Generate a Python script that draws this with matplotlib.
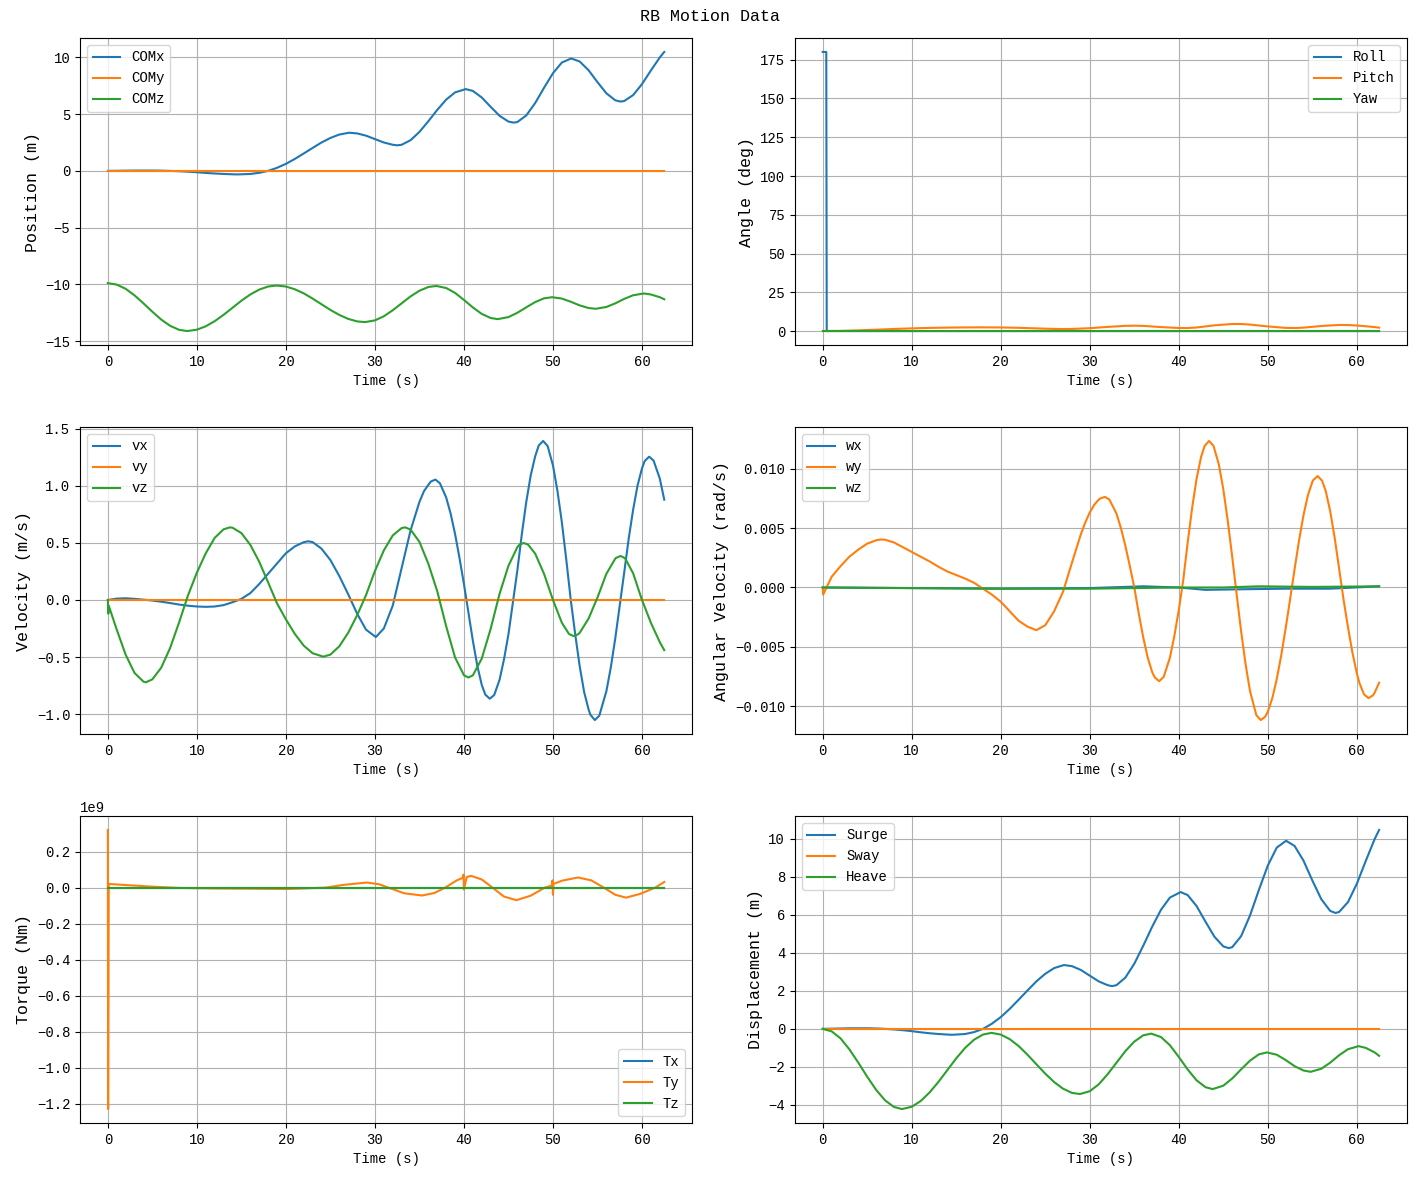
import numpy as np
import matplotlib
matplotlib.use("Agg")
import matplotlib.pyplot as plt

plt.rcParams["font.family"] = ["Liberation Mono", "DejaVu Sans Mono"]
plt.rcParams["font.size"] = 10

# ---- centre of mass position (m) ----
com_x_t = [0, 1, 2, 3, 4, 5, 6, 7, 8, 9, 10, 11, 12, 13, 14, 14.5, 15, 16, 17, 18, 19, 20,
           21, 22, 23, 24, 25, 26, 27.1, 28, 29, 30, 31, 32, 32.5, 33, 34, 35, 36, 37, 38,
           39, 40.2, 41, 42, 43, 44, 45, 45.6, 46, 47, 48, 49, 50, 51, 52.05, 53, 54, 55,
           56, 57, 57.6, 58, 59, 60, 61, 62, 62.5]
com_x = [0.0, 0.01, 0.02, 0.03, 0.03, 0.03, 0.02, 0.0, -0.03, -0.07, -0.12, -0.18, -0.23,
         -0.27, -0.30, -0.31, -0.30, -0.27, -0.17, 0.0, 0.27, 0.62, 1.05, 1.53, 2.02, 2.5,
         2.9, 3.2, 3.36, 3.3, 3.1, 2.8, 2.5, 2.3, 2.25, 2.30, 2.70, 3.43, 4.37, 5.37, 6.27,
         6.91, 7.2, 7.04, 6.46, 5.64, 4.85, 4.34, 4.25, 4.30, 4.88, 5.97, 7.32, 8.60, 9.54,
         9.9, 9.63, 8.86, 7.81, 6.83, 6.21, 6.1, 6.15, 6.67, 7.64, 8.84, 9.99, 10.47]
com_y_t = [0, 62.5]
com_y = [0.0, 0.0]
com_z_t = [0, 1, 2, 3, 4, 5, 6, 7, 8, 8.9, 10, 11, 12, 13, 14, 15, 16, 17, 18, 18.95, 20,
           21, 22, 23, 24, 25, 26, 27, 28, 28.9, 30, 31, 32, 33, 34, 35, 36, 36.9, 38, 39,
           40, 41, 42, 43, 43.8, 45, 46, 47, 48, 49, 49.9, 51, 52, 53, 54, 54.8, 56, 57,
           58, 59, 60.2, 61, 62, 62.5]
com_z = [-9.88, -10.01, -10.38, -10.96, -11.66, -12.40, -13.09, -13.64, -13.99, -14.10,
         -13.98, -13.68, -13.23, -12.67, -12.05, -11.43, -10.88, -10.45, -10.18, -10.09,
         -10.18, -10.42, -10.78, -11.24, -11.74, -12.24, -12.68, -13.03, -13.25, -13.31,
         -13.16, -12.80, -12.27, -11.66, -11.05, -10.55, -10.22, -10.13, -10.31, -10.74,
         -11.36, -12.02, -12.59, -12.95, -13.05, -12.87, -12.49, -12.01, -11.55, -11.22,
         -11.12, -11.24, -11.52, -11.84, -12.07, -12.14, -11.98, -11.66, -11.27, -10.95,
         -10.79, -10.88, -11.12, -11.30]

# ---- euler angles (deg) ----
roll_t = [0, 0.4, 0.45, 62.5]
roll = [180.0, 180.0, 0.0, 0.0]
pitch_t = [0, 2, 4, 6, 8, 10, 12, 14, 16, 18, 20, 22, 24, 26, 27, 28, 30, 32, 34, 35, 36,
           38, 40, 41, 42, 44, 46, 47, 48, 50, 52, 53, 54, 56, 58, 59, 60, 62, 62.5]
pitch = [0.0, 0.12, 0.45, 0.89, 1.34, 1.73, 2.03, 2.23, 2.35, 2.39, 2.32, 2.09, 1.72, 1.38,
         1.31, 1.36, 1.86, 2.68, 3.36, 3.46, 3.34, 2.58, 1.96, 1.95, 2.30, 3.69, 4.57, 4.54,
         4.18, 2.99, 2.05, 1.95, 2.2, 3.26, 3.94, 3.89, 3.59, 2.59, 2.2]
yaw_t = [0, 62.5]
yaw = [0.0, 0.0]

# ---- linear velocity (m/s) ----
vx_t = [0, 1, 2, 3, 4, 5, 6, 7, 8, 9, 10, 11, 12, 13, 14, 15, 16, 17, 18, 19, 20, 21, 22,
        22.5, 23, 24, 25, 26, 27, 28, 29, 30.1, 31, 32, 33, 34, 35, 35.5, 36, 36.3, 36.8,
        37.3, 38, 38.5, 39, 39.5, 40, 41, 41.5, 42, 42.4, 42.9, 43.4, 44, 44.5, 45, 46,
        46.5, 47, 47.5, 48, 48.4, 48.9, 49.4, 50, 50.5, 51, 51.5, 52, 52.5, 53, 53.5, 54,
        54.2, 54.7, 55.2, 56, 56.5, 57, 58, 58.5, 59, 59.5, 60, 60.3, 60.8, 61.3, 62, 62.5]
vx = [0.0, 0.012, 0.015, 0.01, 0.003, -0.005, -0.015, -0.027, -0.04, -0.05, -0.057, -0.06,
      -0.057, -0.045, -0.02, 0.01, 0.06, 0.14, 0.23, 0.32, 0.41, 0.47, 0.507,
      0.515, 0.508, 0.45, 0.35, 0.21, 0.05, -0.12, -0.26, -0.325, -0.25, -0.05, 0.28, 0.61,
      0.86, 0.953, 1.01, 1.04, 1.056, 1.024, 0.90, 0.759, 0.58, 0.368, 0.14, -0.357,
      -0.577, -0.745, -0.83, -0.866, -0.833, -0.70, -0.52, -0.30, 0.26, 0.577, 0.86, 1.093,
      1.26, 1.355, 1.395, 1.35, 1.18, 0.958, 0.68, 0.35, 0.0, -0.302, -0.58, -0.807, -0.96,
      -1.006, -1.053, -1.015, -0.80, -0.59, -0.335, 0.24, 0.535, 0.79, 1.004, 1.155, 1.219,
      1.257, 1.223, 1.065, 0.88]
vy_t = [0, 62.5]
vy = [0.0, 0.0]
vz_t = [0, 0.05, 0.1, 1, 2, 3, 4, 4.26, 5, 6, 7, 8, 9, 10, 11, 12, 13, 13.7, 14, 15, 16,
        17, 18, 19, 20, 21, 22, 23, 24.2, 25, 26, 27, 28, 29, 30, 31, 32, 33, 33.4, 34, 35,
        36, 37, 38, 39, 40, 40.5, 41, 42, 43, 44, 45, 46, 46.2, 46.7, 47.2, 48, 49, 50, 51,
        51.8, 52.3, 52.8, 53, 54, 55, 56, 57, 57.1, 57.6, 58.1, 59, 60, 61, 62, 62.5]
vz = [0.0, -0.12, -0.05, -0.26, -0.48, -0.64, -0.716, -0.722, -0.696, -0.593, -0.42,
      -0.197, 0.04, 0.24, 0.41, 0.545, 0.62, 0.637, 0.634, 0.587, 0.484, 0.336, 0.155,
      -0.029, -0.17, -0.297, -0.40, -0.467, -0.497, -0.479, -0.406, -0.287, -0.134, 0.043,
      0.254, 0.435, 0.566, 0.631, 0.637, 0.618, 0.51, 0.318, 0.077, -0.229, -0.504, -0.66,
      -0.68, -0.661, -0.514, -0.253, 0.054, 0.30, 0.464, 0.482, 0.5, 0.486, 0.407, 0.229,
      0.0, -0.2, -0.298, -0.316, -0.302, -0.288, -0.163, 0.022, 0.23, 0.363, 0.37, 0.386,
      0.366, 0.235, 0.0, -0.2, -0.37, -0.44]

# ---- angular velocity (rad/s) ----
wx_t = [0, 10, 20, 30, 36, 40, 43, 47, 52, 57, 62.5]
wx = [0.0, -0.00005, -0.0001, -0.00005, 0.0001, 0.0, -0.0002, -0.00015, -0.0001, -0.0001,
      0.0001]
wy_t = [0, 0.05, 1, 2, 3, 4, 5, 6, 6.5, 7, 8, 9, 10, 11, 12, 13, 14, 15, 16, 17, 18, 19,
        20, 21, 22, 23, 24, 25, 26, 27, 28, 29, 29.5, 30, 30.5, 31, 31.2, 31.7, 32.2, 33,
        33.5, 34, 34.5, 35, 35.5, 36, 36.5, 37, 37.3, 37.8, 38.3, 39, 39.5, 40, 40.5, 41,
        41.5, 42, 42.5, 42.9, 43.4, 43.9, 44.5, 45, 45.5, 46, 46.5, 47, 47.5, 48, 48.7,
        49.2, 49.7, 50, 50.5, 51, 51.5, 52, 52.5, 53, 53.5, 54, 54.5, 55, 55.1, 55.6, 56.1,
        56.5, 57, 57.5, 58, 58.5, 59, 59.5, 60, 60.3, 60.8, 61.3, 61.8, 62, 62.5]
wy = [0.0, -0.0006, 0.0009, 0.0018, 0.0026, 0.0032, 0.0037, 0.00398, 0.00405, 0.00403,
      0.0038, 0.0034, 0.003, 0.0026, 0.0022, 0.00175, 0.00135, 0.00105, 0.00075, 0.0004,
      -0.0001, -0.0006, -0.0012, -0.002, -0.0028, -0.0033, -0.0036, -0.00318, -0.002,
      -0.00035, 0.0021, 0.0045, 0.0055, 0.00633, 0.00698, 0.00741, 0.00752, 0.00764,
      0.00742, 0.00623, 0.005, 0.0035, 0.0018, 0.0, -0.00219, -0.0042, -0.00589, -0.00712,
      -0.00759, -0.0079, -0.00754, -0.00592, -0.00408, -0.00189, 0.00064, 0.00382,
      0.00673, 0.00919, 0.01101, 0.01194, 0.01236, 0.01194, 0.01037, 0.00827, 0.00561,
      0.00257, -0.0006, -0.0037, -0.00647, -0.00874, -0.01075, -0.01118, -0.0109, -0.01047,
      -0.00934, -0.00773, -0.00574, -0.00345, -0.001, 0.00152, 0.00394, 0.00608, 0.00778,
      0.00891, 0.00906, 0.0094, 0.009, 0.00814, 0.00645, 0.00423, 0.00163, -0.001,
      -0.00334, -0.00549, -0.00725, -0.00808, -0.00901, -0.00933, -0.0091, -0.00887,
      -0.00803]
wz_t = [0, 10, 20, 30, 40, 45, 49, 55, 62.5]
wz = [0.0, -0.00005, -0.0001, -0.0001, 0.0, 0.0, 0.0001, 0.00005, 0.0001]

# ---- torque (Nm, in units of 1e9) ----
tx_t = [0, 62.5]
tx = [0.0, 0.0]
ty_t = [0, 0.03, 0.1, 2, 5, 8, 12, 16, 20, 22, 24.5, 26.5, 29.1, 30.5, 31.5, 33.3, 35.3,
        36.7, 37.9, 39.2, 39.9, 39.95, 40.0, 40.3, 40.8, 42, 43.2, 44.5, 45.9, 47.5, 49.1,
        49.9, 49.95, 50.0, 50.05, 51, 52.8, 54.3, 55.7, 57, 58.2, 59.8, 61.5, 62.5]
ty = [0.32, -1.23, 0.02, 0.014, 0.005, -0.002, -0.005, -0.006, -0.008, -0.005, 0.0, 0.015,
      0.028, 0.018, 0.0, -0.032, -0.044, -0.03, 0.0, 0.04, 0.055, 0.072, -0.011, 0.058,
      0.065, 0.045, 0.0, -0.05, -0.07, -0.045, 0.0, 0.012, 0.04, -0.04, 0.02, 0.038, 0.056,
      0.04, 0.0, -0.04, -0.056, -0.035, 0.0, 0.031]
tz_t = [0, 62.5]
tz = [0.0, 0.0]

# displacement relative to the start position
surge = np.array(com_x) - com_x[0]
sway = np.array(com_y) - com_y[0]
heave = np.array(com_z) - com_z[0]

fig, axes = plt.subplots(3, 2, figsize=(14.19, 11.8), dpi=100)
fig.subplots_adjust(left=0.0564, right=0.9915, top=0.9678, bottom=0.0483,
                    wspace=0.168, hspace=0.267)
fig.suptitle("RB Motion Data", fontsize=12, y=0.992)

panels = [
    (axes[0, 0], [(com_x_t, com_x, "COMx"), (com_y_t, com_y, "COMy"), (com_z_t, com_z, "COMz")],
     "Position (m)", "upper left"),
    (axes[0, 1], [(roll_t, roll, "Roll"), (pitch_t, pitch, "Pitch"), (yaw_t, yaw, "Yaw")],
     "Angle (deg)", "upper right"),
    (axes[1, 0], [(vx_t, vx, "vx"), (vy_t, vy, "vy"), (vz_t, vz, "vz")],
     "Velocity (m/s)", "upper left"),
    (axes[1, 1], [(wx_t, wx, "wx"), (wy_t, wy, "wy"), (wz_t, wz, "wz")],
     "Angular Velocity (rad/s)", "upper left"),
    (axes[2, 0], [(tx_t, np.array(tx) * 1e9, "Tx"), (ty_t, np.array(ty) * 1e9, "Ty"),
                  (tz_t, np.array(tz) * 1e9, "Tz")],
     "Torque (Nm)", "lower right"),
    (axes[2, 1], [(com_x_t, surge, "Surge"), (com_y_t, sway, "Sway"), (com_z_t, heave, "Heave")],
     "Displacement (m)", "upper left"),
]

for ax, series, ylabel, loc in panels:
    for t, v, label in series:
        ax.plot(t, v, label=label, linewidth=1.5)
    ax.set_xlabel("Time (s)")
    ax.set_ylabel(ylabel, fontsize=12)
    ax.grid(True)
    ax.legend(loc=loc)

fig.savefig("out.png")
